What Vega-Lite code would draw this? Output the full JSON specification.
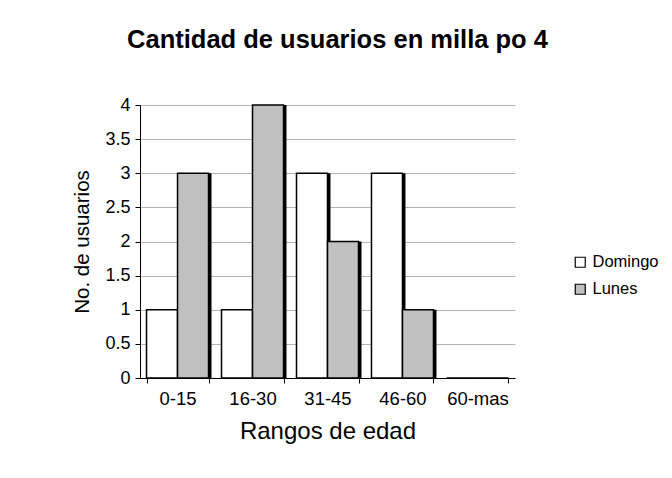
{
  "$schema": "https://vega.github.io/schema/vega-lite/v6.json",
  "width": 375,
  "height": 273,
  "autosize": {"type": "none"},
  "padding": {"left": 140, "top": 105, "right": 157, "bottom": 100},
  "background": "white",
  "config": {"view": {"stroke": null}, "font": "Liberation Sans"},
  "title": {"text": "Cantidad de usuarios en milla po 4", "fontSize": 25.5, "fontWeight": "bold", "font": "Liberation Sans", "anchor": "middle", "frame": "group", "offset": 43, "dx": 10, "color": "black"},
  "data": {"values": [
    {"rango": "0-15", "dia": "Domingo", "usuarios": 1},
    {"rango": "0-15", "dia": "Lunes", "usuarios": 3},
    {"rango": "16-30", "dia": "Domingo", "usuarios": 1},
    {"rango": "16-30", "dia": "Lunes", "usuarios": 4},
    {"rango": "31-45", "dia": "Domingo", "usuarios": 3},
    {"rango": "31-45", "dia": "Lunes", "usuarios": 2},
    {"rango": "46-60", "dia": "Domingo", "usuarios": 3},
    {"rango": "46-60", "dia": "Lunes", "usuarios": 1},
    {"rango": "60-mas", "dia": "Domingo", "usuarios": 0},
    {"rango": "60-mas", "dia": "Lunes", "usuarios": 0}
  ]},
  "encoding": {
    "x": {"field": "rango", "type": "nominal", "sort": ["0-15", "16-30", "31-45", "46-60", "60-mas"],
      "scale": {"paddingInner": 0.173, "paddingOuter": 0.087},
      "axis": {"title": "Rangos de edad", "labelAngle": 0, "labelFontSize": 18.5, "labelColor": "black", "labelPadding": 6, "tickBand": "extent", "tickSize": 5, "tickColor": "black", "domainColor": "black", "titleFontSize": 24, "titleFontWeight": "normal", "titleColor": "black", "titlePadding": 12, "grid": false}},
    "y": {"field": "usuarios", "type": "quantitative", "stack": null,
      "scale": {"domain": [0, 4]},
      "axis": {"title": "No. de usuarios", "values": [0, 0.5, 1, 1.5, 2, 2.5, 3, 3.5, 4], "format": "~g", "labelFontSize": 18, "labelColor": "black", "labelPadding": 5, "tickSize": 5, "tickColor": "black", "domainColor": "black", "gridColor": "#b4b4b4", "titleFontSize": 20.5, "titleFontWeight": "normal", "titleColor": "black", "titlePadding": 12}}
  },
  "layer": [
    {"mark": {"type": "bar", "color": "black"},
      "encoding": {"xOffset": {"field": "dia", "type": "nominal", "sort": ["Domingo", "Lunes"], "scale": {"range": [3, 65]}}}},
    {"mark": {"type": "bar", "stroke": "black", "strokeWidth": 1.5},
      "encoding": {
        "xOffset": {"field": "dia", "type": "nominal", "sort": ["Domingo", "Lunes"]},
        "fill": {"field": "dia", "type": "nominal", "sort": ["Domingo", "Lunes"],
        "scale": {"domain": ["Domingo", "Lunes"], "range": ["white", "#c0c0c0"]},
        "legend": {"title": null, "orient": "none", "legendX": 432, "legendY": 149, "symbolType": "square", "symbolSize": 100, "symbolStrokeColor": "black", "symbolStrokeWidth": 1.2, "labelFontSize": 16.5, "labelColor": "black", "rowPadding": 10, "labelOffset": 4}}}}
  ],
  "resolve": {"scale": {"xOffset": "independent"}}
}
